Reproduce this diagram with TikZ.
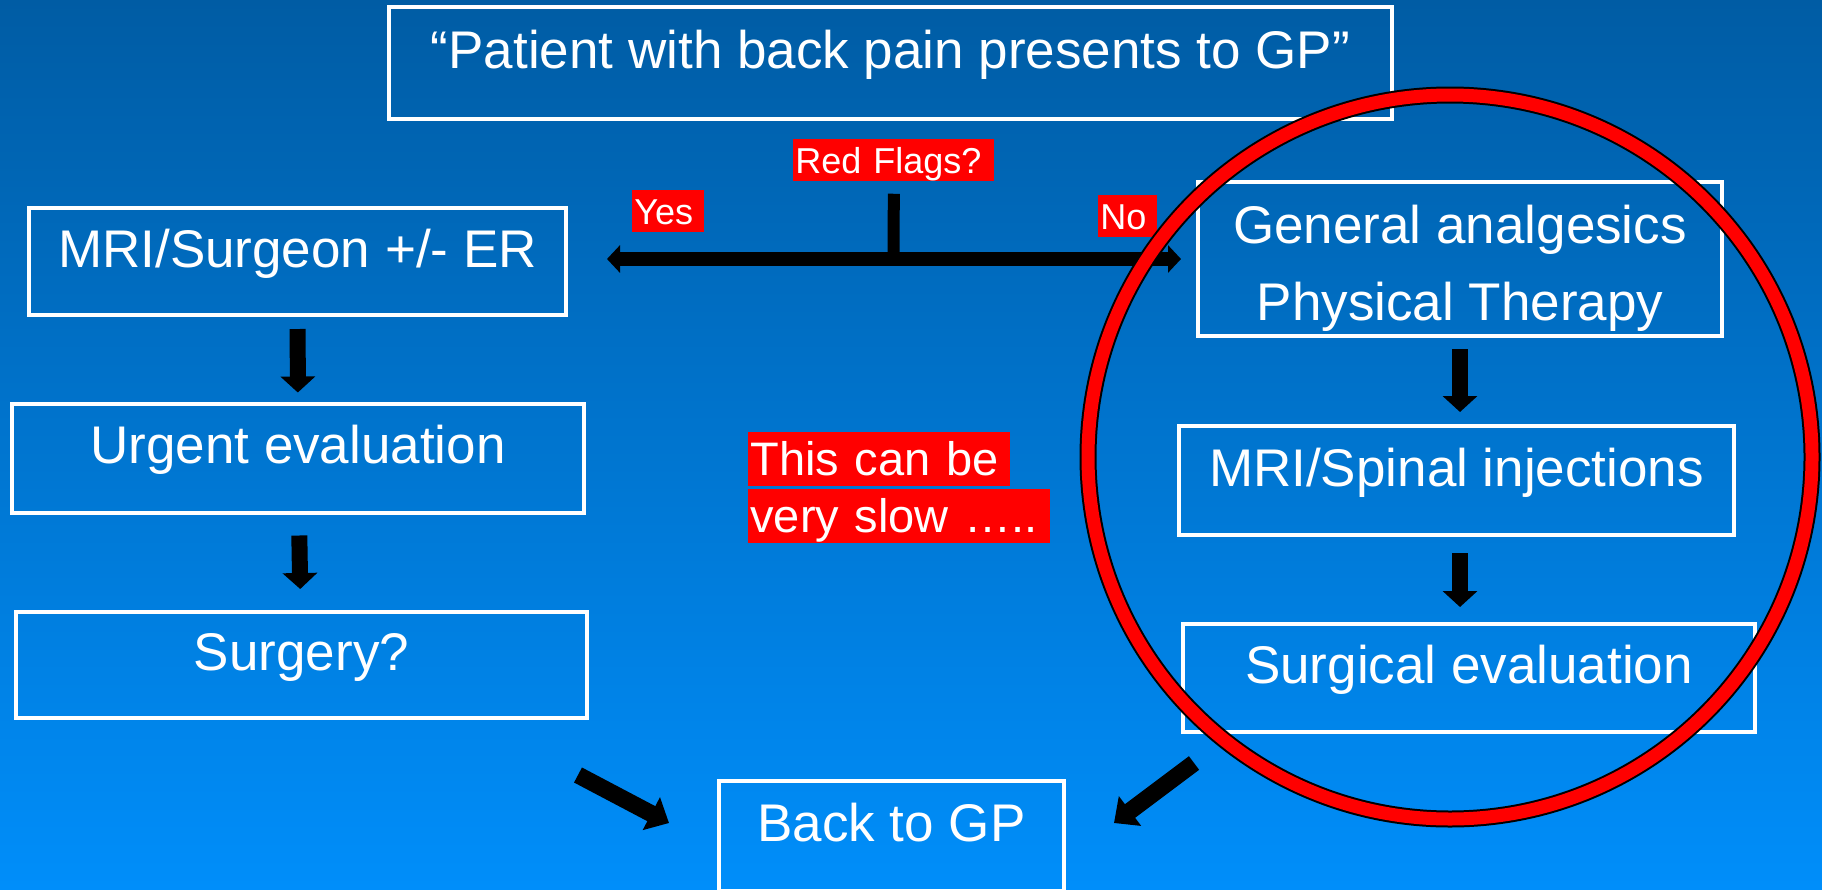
\documentclass[tikz,border=0pt]{standalone}
\usepackage{fontspec}
\setmainfont{Liberation Sans}
\usetikzlibrary{arrows.meta}

\definecolor{bgtop}{RGB}{0,92,164}
\definecolor{bgbottom}{RGB}{0,142,250}
\definecolor{flagred}{RGB}{255,0,0}

\tikzset{every picture/.style={line width=0.75pt}}
\tikzset{
  stepbox/.style={draw=white, line width=4pt, text=white, inner sep=0pt,
    font=\fontsize{53}{77}\selectfont, align=center,
    text height=38pt, text depth=27pt},
  flagbox/.style={fill=flagred, text=white, anchor=north west, align=left,
    inner xsep=2pt, inner ysep=0pt, font=\fontsize{36}{40}\selectfont,
    minimum height=42pt, text height=26pt, text depth=0pt},
  notebox/.style={flagbox, font=\fontsize{47}{54}\selectfont,
    minimum height=54pt, text height=34pt, text depth=2pt},
  downarrow/.style={draw=black, line width=16pt, -{Triangle[length=16pt,width=34pt]}},
  slantarrow/.style={draw=black, line width=17pt, -{Triangle[length=20pt,width=36pt]}},
  forkarrow/.style={draw=black, line width=14pt,
    {Triangle[length=13pt,width=27pt]}-{Triangle[length=13pt,width=27pt]}},
  stemline/.style={draw=black, line width=12pt}
}

\begin{document}
\begin{tikzpicture}[x=1pt,y=1pt,yscale=-1,xscale=1]
\useasboundingbox (0,0) rectangle (1822,889);
%Background
\shade [top color=bgtop, bottom color=bgbottom] (0,0) rectangle (1822,889);

% Boxes
\node [stepbox, minimum width=1003pt, minimum height=112pt] (gp) at (890.5,63) {“Patient with back pain presents to GP”};
\node [stepbox, minimum width=537pt, minimum height=107pt] (mri) at (297.5,261.5) {MRI/Surgeon +/- ER};
\node [stepbox, minimum width=572pt, minimum height=109pt] (urgent) at (298,458) {Urgent evaluation};
\node [stepbox, minimum width=571pt, minimum height=106pt] (surgery) at (301.5,665) {Surgery?};
\node [stepbox, minimum width=345pt, minimum height=110pt] (back) at (891.5,836) {Back to GP};
\node [stepbox, minimum width=524pt, minimum height=154pt, text height=122pt, text depth=0pt] (gen) at (1460,259) {General analgesics\\Physical Therapy};
\node [stepbox, minimum width=555pt, minimum height=109pt] (mrs) at (1456.5,480.5) {MRI/Spinal injections};
\node [stepbox, minimum width=572pt, minimum height=108pt] (surg) at (1469,678) {Surgical evaluation};

% Text Node
\node [flagbox, text width=197pt] (flags) at (793,139) {Red Flags?};
% Text Node
\node [flagbox, text width=68pt] (yes) at (632,190) {Yes};
% Text Node
\node [flagbox, text width=55pt] (no) at (1098,195) {No};
% Text Node
\node [notebox, text width=258pt] (slowa) at (748,432) {This can be};
\node [notebox, text width=298pt] (slowb) at (748,489) {very slow …..};

%Straight Lines
\coordinate (fork) at (893.5,259);
\draw [stemline, shorten <=12pt] (flags.south) -- (fork);
\draw [forkarrow, shorten <=39pt, shorten >=15pt] (fork -| mri.east) -- (fork -| gen.west);

\draw [downarrow, shorten <=12pt, shorten >=9pt] (mri) -- (urgent);
\draw [downarrow, shorten <=21pt, shorten >=21pt] (urgent) -- (surgery);
\draw [downarrow, shorten <=11pt, shorten >=12pt] (gen.south) -- (gen.south |- mrs.north);
\draw [downarrow, shorten <=16pt, shorten >=15pt] (gen.south |- mrs.south) -- (gen.south |- surg.north);

\coordinate (lefttail) at (578,775);
\coordinate (lefttip) at (669,823);
\coordinate (righttail) at (1194,763);
\coordinate (righttip) at (1114,823);
\draw [slantarrow] (lefttail) -- (lefttip);
\draw [slantarrow] (righttail) -- (righttip);

%Shape: Circle
\draw [black, line width=17pt] (1450,457) circle [radius=362];
\draw [flagred, line width=13pt] (1450,457) circle [radius=362];

\end{tikzpicture}
\end{document}
